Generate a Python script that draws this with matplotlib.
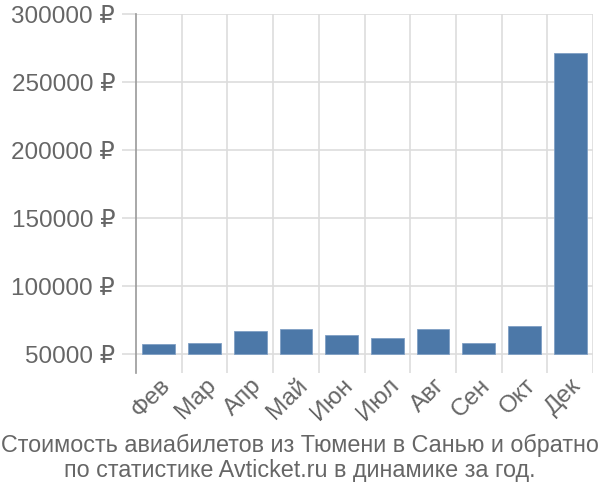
import matplotlib.pyplot as plt

plt.rcParams["font.family"] = ["Liberation Sans", "DejaVu Sans"]

months = ["Фев", "Мар", "Апр", "Май", "Июн", "Июл", "Авг", "Сен", "Окт", "Дек"]
prices = [57700, 58200, 67300, 68500, 64100, 61900, 68700, 58450, 70700, 271300]
y_ticks = [50000, 100000, 150000, 200000, 250000, 300000]
base = 50000

text_color = "#666666"
grid_color = "#dddddd"

fig = plt.figure(figsize=(6, 5), dpi=100)
ax = fig.add_axes([0.2267, 0.254, 0.7616, 0.7174])

x = list(range(len(months)))
heights = [p - base for p in prices]
ax.bar(x, heights, bottom=base, width=0.72, color="#4c78a8",
       edgecolor="#7f9fc4", linewidth=0.6, zorder=3)

ax.set_xlim(-0.5, len(months) - 0.5)
ax.set_ylim(36400, 300000)

ax.set_yticks(y_ticks)
ax.set_yticklabels([f"{v} ₽" for v in y_ticks])
ax.set_xticks(x)
ax.set_xticklabels(months, rotation=45, ha="right", rotation_mode="anchor")
ax.set_xticks([i + 0.5 for i in x], minor=True)

ax.grid(axis="y", color=grid_color, linewidth=1.2, zorder=0)
ax.grid(axis="x", which="minor", color=grid_color, linewidth=1.2, zorder=0)

ax.tick_params(axis="y", length=10, color=grid_color, width=1.2,
               labelsize=17.5, labelcolor=text_color, pad=5)
ax.tick_params(axis="x", which="major", length=0,
               labelsize=17.5, labelcolor=text_color, pad=1)
ax.tick_params(axis="x", which="minor", length=0)

for side in ["top", "right", "bottom"]:
    ax.spines[side].set_visible(False)
ax.spines["left"].set_color("#999999")
ax.spines["left"].set_linewidth(1.2)

fig.text(0.5, 0.084,
         "Стоимость авиабилетов из Тюмени в Санью и обратно\n"
         "по статистике Avticket.ru в динамике за год.",
         ha="center", va="center", fontsize=16.8, color=text_color,
         linespacing=1.15)

fig.savefig("out.png", dpi=100)
